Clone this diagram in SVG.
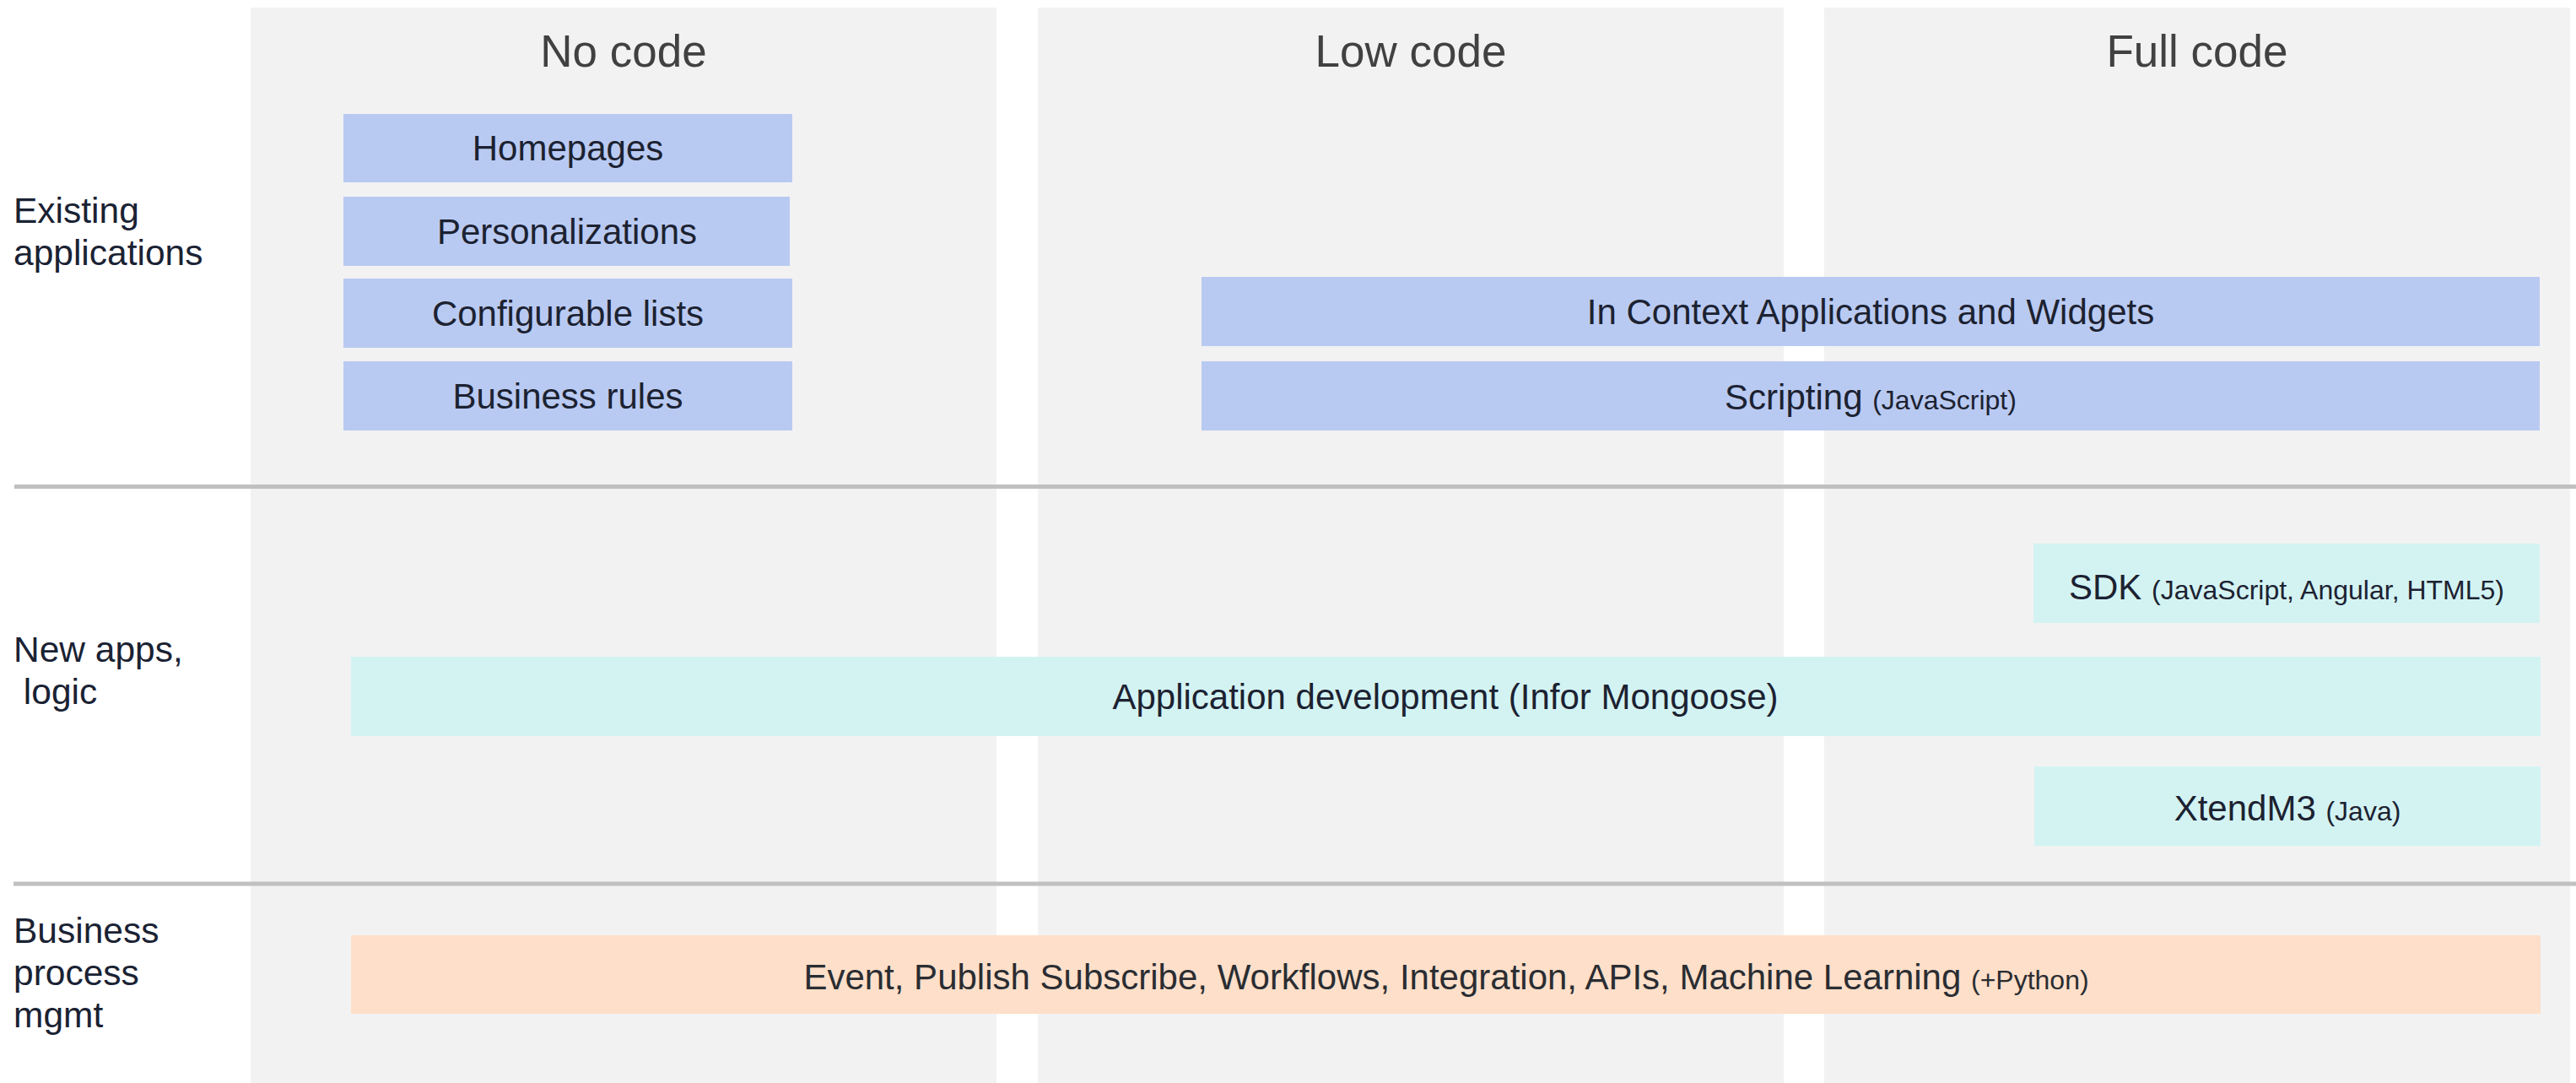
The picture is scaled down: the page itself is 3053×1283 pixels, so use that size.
<svg xmlns="http://www.w3.org/2000/svg" width="3053" height="1283" viewBox="0 0 3053 1283">
<style>
.col{fill:#f2f2f2}
.hdr{font-family:"Liberation Sans",Arial,sans-serif;font-size:53px;fill:#414141;text-anchor:middle}
.lbl{font-family:"Liberation Sans",Arial,sans-serif;font-size:42.5px;fill:#1a2233}
.blue{fill:#b9caf2}
.cyan{fill:#d3f3f3}
.orange{fill:#fedfc9}
.t{font-family:"Liberation Sans",Arial,sans-serif;font-size:42px;fill:#1c2231;text-anchor:middle}
.t2{fill:#2a2d32}
.s{font-size:32px}
.sep{stroke:#c0c0c0;stroke-width:5;fill:none}
</style>
<rect width="3053" height="1283" fill="#ffffff"/>
<g id="columns">
<g id="col-no-code"><rect class="col" x="297" y="9" width="884" height="1274"/><text class="hdr" x="739" y="79">No code</text></g>
<g id="col-low-code"><rect class="col" x="1230" y="9" width="884" height="1274"/><text class="hdr" x="1672" y="79">Low code</text></g>
<g id="col-full-code"><rect class="col" x="2162" y="9" width="884" height="1274"/><text class="hdr" x="2604" y="79">Full code</text></g>
</g>
<g id="separators">
<line class="sep" x1="17" y1="576.5" x2="3053" y2="576.5"/>
<line class="sep" x1="16" y1="1047" x2="3053" y2="1047"/>
</g>
<g id="row-labels">
<g id="row-existing"><text class="lbl" x="16" y="264">Existing</text><text class="lbl" x="16" y="314">applications</text></g>
<g id="row-new"><text class="lbl" x="16" y="784">New apps,</text><text class="lbl" x="16" y="834" xml:space="preserve"> logic</text></g>
<g id="row-bpm"><text class="lbl" x="16" y="1117">Business</text><text class="lbl" x="16" y="1167">process</text><text class="lbl" x="16" y="1217">mgmt</text></g>
</g>
<g id="homepages"><rect class="blue" x="407" y="135" width="532" height="81"/><text class="t" x="673" y="190">Homepages</text></g>
<g id="personalizations"><rect class="blue" x="407" y="233" width="529" height="82"/><text class="t" x="672" y="289">Personalizations</text></g>
<g id="configurable-lists"><rect class="blue" x="407" y="330" width="532" height="82"/><text class="t" x="673" y="386">Configurable lists</text></g>
<g id="business-rules"><rect class="blue" x="407" y="428" width="532" height="82"/><text class="t" x="673" y="484">Business rules</text></g>
<g id="in-context"><rect class="blue" x="1424" y="328" width="1586" height="82"/><text class="t" x="2217" y="384">In Context Applications and Widgets</text></g>
<g id="scripting"><rect class="blue" x="1424" y="428" width="1586" height="82"/><text class="t" x="2217" y="485">Scripting <tspan class="s">(JavaScript)</tspan></text></g>
<g id="sdk"><rect class="cyan" x="2410" y="644" width="600" height="94"/><text class="t" x="2710" y="710">SDK <tspan class="s">(JavaScript, Angular, HTML5)</tspan></text></g>
<g id="app-dev"><rect class="cyan" x="416" y="778" width="2595" height="94"/><text class="t" x="1713" y="840">Application development (Infor Mongoose)</text></g>
<g id="xtendm3"><rect class="cyan" x="2411" y="908" width="600" height="94"/><text class="t" x="2711" y="972">XtendM3 <tspan class="s">(Java)</tspan></text></g>
<g id="bpm-bar"><rect class="orange" x="416" y="1108" width="2595" height="93"/><text class="t t2" x="1714" y="1172">Event, Publish Subscribe, Workflows, Integration, APIs, Machine Learning <tspan class="s">(+Python)</tspan></text></g>
</svg>
